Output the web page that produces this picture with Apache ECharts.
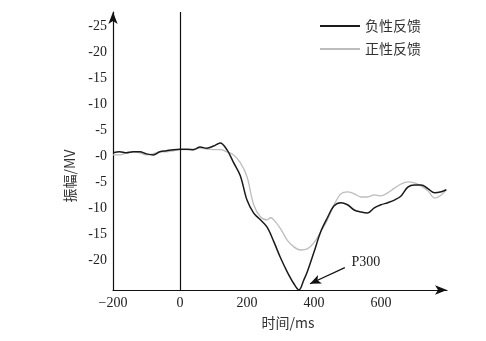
<!DOCTYPE html>
<html>
<head>
<meta charset="utf-8">
<script src="https://cdn.jsdelivr.net/npm/echarts@6/dist/echarts.min.js"></script>
<style>
  html, body { margin: 0; padding: 0; background: #fff; }
  #chart { width: 486px; height: 341px; }
</style>
</head>
<body>
<div id="chart"></div>
<script>
// ERP waveforms (amplitude in μV, plotted negative-up)
const negTime = [-200,-180,-160,-140,-120,-100,-80,-60,-40,-20,0,20,40,60,80,100,120,140,160,180,200,220,240,260,280,300,320,340,355,370,380,400,420,440,460,480,500,520,540,560,580,600,620,640,660,680,700,720,740,760,780,795];
const negAmp  = [-0.6,-0.8,-0.6,-0.8,-0.8,-0.4,-0.2,-0.8,-1.0,-1.2,-1.3,-1.3,-1.2,-1.7,-1.5,-1.9,-2.5,-1.2,1.3,3.8,8.5,11.0,12.3,13.7,16.5,19.6,22.3,24.6,25.8,23.8,22.3,18.5,14.6,11.9,9.6,9.0,9.4,10.4,10.8,11.0,10.0,9.4,9.0,8.5,7.7,6.0,5.6,5.6,6.3,7.1,6.9,6.5];

const posTime = [-200,-180,-160,-140,-120,-100,-80,-60,-40,-20,0,20,40,60,80,100,120,140,160,180,200,220,240,260,270,280,300,320,340,360,380,400,420,440,460,480,500,520,540,560,580,600,620,640,660,680,700,720,740,760,780,795];
const posAmp  = [-0.2,-0.2,-0.6,-0.8,-0.6,-0.2,-0.4,-0.8,-0.8,-1.0,-1.2,-1.2,-1.3,-1.5,-1.3,-1.2,-1.2,-0.8,-0.2,1.3,4.0,9.4,11.7,12.3,11.9,12.3,14.0,16.2,17.5,18.1,17.9,16.7,14.6,12.3,9.4,7.3,6.9,7.3,7.9,7.9,7.5,7.7,7.1,6.2,5.4,5.0,5.2,5.8,6.7,8.1,7.5,6.5];

const seriesNames = ['负性反馈', '正性反馈'];
const yTicks = [-25,-20,-15,-10,-5,0,5,10,15,20];
const xTicks = [-200,0,200,400,600];
const peakName = 'P300';

const pairs = (t, v) => t.map((x, i) => [x, v[i]]);

// locate the trough of the negative-feedback wave for the P300 pointer
let pk = 0;
negAmp.forEach((v, i) => { if (v > negAmp[pk]) pk = i; });
const peakT = negTime[pk], peakV = negAmp[pk];

const serif = '"Liberation Serif", "DejaVu Serif", serif';
const cjk = '"Noto Sans CJK SC", sans-serif';

const chart = echarts.init(document.getElementById('chart'), null, { renderer: 'canvas' });
chart.setOption({
  animation: false,
  backgroundColor: '#ffffff',
  grid: { left: 113, right: 39, top: 12, bottom: 51, containLabel: false },
  legend: {
    orient: 'vertical',
    left: 315,
    top: 14,
    itemWidth: 40,
    itemHeight: 2,
    itemGap: 9,
    icon: 'rect',
    data: seriesNames,
    textStyle: { fontFamily: cjk, fontSize: 14, color: '#333', padding: [0, 0, 0, 0] }
  },
  xAxis: {
    type: 'value',
    min: -200,
    max: 797,
    interval: 200,
    name: '时间/ms',
    nameLocation: 'middle',
    nameGap: 26,
    nameTextStyle: { fontFamily: cjk, fontSize: 14, color: '#333', padding: [0, 0, 0, 16] },
    axisLine: { show: true, onZero: false, symbol: ['none', 'arrow'], symbolSize: [7, 12], lineStyle: { color: '#111', width: 1.2 } },
    axisTick: { show: false },
    splitLine: { show: false },
    axisLabel: {
      customValues: xTicks,
      margin: 6,
      fontFamily: serif, fontSize: 14, color: '#222',
      formatter: v => String(v).replace('-', '\u2212')
    }
  },
  yAxis: {
    type: 'value',
    inverse: true,
    min: -27.7,
    max: 25.8,
    name: '振幅/MV',
    nameLocation: 'middle',
    nameGap: 36,
    nameRotate: 90,
    nameTextStyle: { fontFamily: cjk, fontSize: 14, color: '#333', padding: [0, 50, 0, 0] },
    axisLine: { show: true, onZero: false, symbol: ['none', 'arrow'], symbolSize: [7, 12], lineStyle: { color: '#111', width: 1.2 } },
    axisTick: { show: false },
    splitLine: { show: false },
    axisLabel: {
      customValues: yTicks,
      margin: 6,
      fontFamily: serif, fontSize: 14, color: '#222',
      formatter: v => (v === 0 ? '-0' : '-' + Math.abs(v))
    }
  },
  series: [
    {
      name: seriesNames[0],
      type: 'line',
      data: pairs(negTime, negAmp),
      smooth: 0.35,
      showSymbol: false,
      z: 3,
      lineStyle: { color: '#1a1a1a', width: 1.5 },
      itemStyle: { color: '#1a1a1a' },
      markLine: {
        silent: true,
        animation: false,
        data: [
          [
            { xAxis: 0, yAxis: -27.7, symbol: 'none' },
            { xAxis: 0, yAxis: 25.8, symbol: 'none' }
          ],
          [
            { coord: [peakT + 137, peakV - 4.3], symbol: 'none' },
            { coord: [peakT + 33, peakV - 1.2], symbol: 'arrow', symbolSize: [7, 11] }
          ]
        ],
        lineStyle: { color: '#111', width: 1.2, type: 'solid' },
        label: { show: false }
      },
      markPoint: {
        silent: true,
        symbol: 'circle',
        symbolSize: 0,
        data: [{ coord: [peakT + 200, peakV - 5.4], value: peakName }],
        label: { show: true, position: 'inside', formatter: peakName, fontFamily: serif, fontSize: 14, color: '#222' }
      }
    },
    {
      name: seriesNames[1],
      type: 'line',
      data: pairs(posTime, posAmp),
      smooth: 0.35,
      showSymbol: false,
      z: 2,
      lineStyle: { color: '#bdbdbd', width: 1.3 },
      itemStyle: { color: '#bdbdbd' }
    }
  ]
});
</script>
</body>
</html>
